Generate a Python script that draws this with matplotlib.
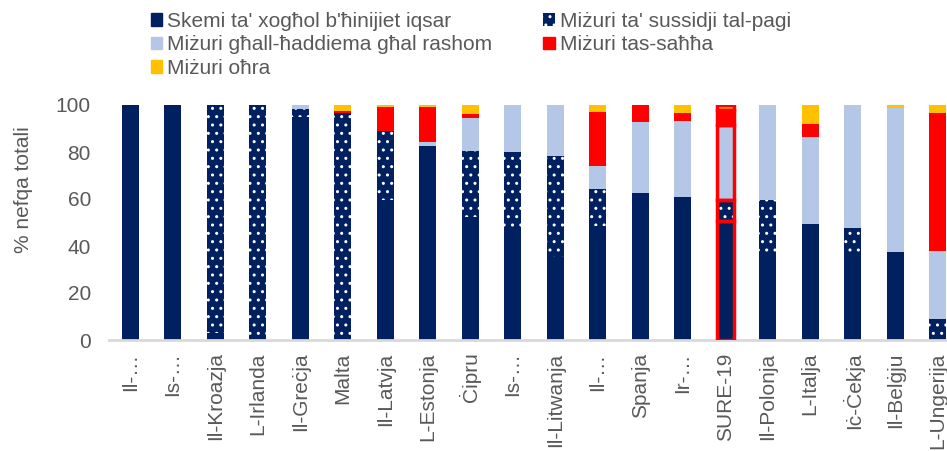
import matplotlib
matplotlib.use("Agg")
import matplotlib.pyplot as plt
import numpy as np
from matplotlib.patches import Patch

plt.rcParams["font.family"] = ["Liberation Sans", "DejaVu Sans"]
plt.rcParams["hatch.linewidth"] = 1.0

countries = ["Il-…", "Is-…", "Il-Kroazja", "L-Irlanda", "Il-Greċja", "Malta",
             "Il-Latvja", "L-Estonja", "Ċipru", "Is-…", "Il-Litwanja", "Il-…",
             "Spanja", "Ir-…", "SURE-19", "Il-Polonja", "L-Italja", "Iċ-Ċekja",
             "Il-Belġju", "L-Ungerija"]

short_time = [100, 100, 3, 0, 94.8, 0, 59.6, 82.7, 52.2, 46.7, 35.2, 48.5,
              62.6, 61.0, 50.8, 36.9, 49.4, 37.3, 37.6, 0]
wage_subsidy = [0, 0, 97, 100, 3.4, 96.7, 29.5, 0, 28.2, 33.3, 43.2, 15.6,
                0, 0, 8.8, 22.7, 0, 10.4, 0, 8.9]
self_employed = [0, 0, 0, 0, 1.8, 0, 0, 1.6, 14.1, 20, 21.6, 10.1,
                 30.3, 32.3, 31.9, 40.4, 37, 52.3, 61.1, 29]
health = [0, 0, 0, 0, 0, 0.7, 9.9, 15.0, 1.8, 0, 0, 23,
          7.1, 3.4, 6.5, 0, 5.6, 0, 0, 58.8]
other = [0, 0, 0, 0, 0, 2.6, 1, 0.7, 3.7, 0, 0, 2.8,
         0, 3.3, 2, 0, 8, 0, 1.3, 3.3]

series_names = ["Skemi ta' xogħol b'ħinijiet iqsar", "Miżuri ta' sussidji tal-pagi",
                "Miżuri għall-ħaddiema għal rashom", "Miżuri tas-saħħa", "Miżuri oħra"]

NAVY, LIGHT, RED, YELLOW = "#002060", "#b4c7e7", "#ff0000", "#ffc000"
GREY = "#595959"
FS = 15

fig = plt.figure(figsize=(9.47, 4.51), dpi=100)
ax = fig.add_axes([109 / 947, 111 / 451, 838 / 947, 235 / 451])

x = np.arange(len(countries))
w = 0.4
bottom = np.zeros(len(countries))
styles = [
    dict(color=NAVY),
    dict(facecolor=NAVY, edgecolor="white", hatch="..", linewidth=0),
    dict(color=LIGHT),
    dict(color=RED),
    dict(color=YELLOW),
]
for vals, st in zip([short_time, wage_subsidy, self_employed, health, other], styles):
    vals = np.array(vals, dtype=float)
    ax.bar(x, vals, w, bottom=bottom, **st)
    bottom += vals

# highlight the SURE-19 aggregate bar with a red outline
i = countries.index("SURE-19")
b = 0.0
for vals in [short_time, wage_subsidy, self_employed, health, other]:
    v = vals[i]
    if v > 0:
        ax.bar(x[i], v, w, bottom=b, facecolor="none", edgecolor=RED, linewidth=2.5, zorder=4)
    b += v

ax.set_xlim(-0.5, 19.22)
ax.set_ylim(0, 100)
ax.set_yticks([0, 20, 40, 60, 80, 100])
ax.set_xticks(x)
ax.set_xticklabels(countries, rotation=90)
ax.tick_params(axis="both", length=0, labelsize=FS, colors=GREY)
ax.tick_params(axis="y", pad=13)
ax.tick_params(axis="x", pad=9)
ax.set_ylabel("% nefqa totali", fontsize=FS, color=GREY)
ax.yaxis.set_label_coords(-0.091, 0.64)
for s in ["top", "right", "left"]:
    ax.spines[s].set_visible(False)
ax.spines["bottom"].set_color("#d9d9d9")
ax.spines["bottom"].set_linewidth(2)

handles = [
    Patch(color=NAVY),
    Patch(color=LIGHT),
    Patch(color=YELLOW),
    Patch(facecolor=NAVY, edgecolor="white", hatch="..", linewidth=0),
    Patch(color=RED),
]
labels = [series_names[0], series_names[2], series_names[4], series_names[1], series_names[3]]
fig.legend(handles, labels, ncol=2, loc="upper left", bbox_to_anchor=(136 / 947, 1.006),
           frameon=False, fontsize=FS, labelcolor=GREY, handlelength=0.55, handleheight=0.55,
           handletextpad=0.25, columnspacing=2.45, labelspacing=0.22, borderaxespad=0.3)

fig.savefig("out.png", dpi=100)
